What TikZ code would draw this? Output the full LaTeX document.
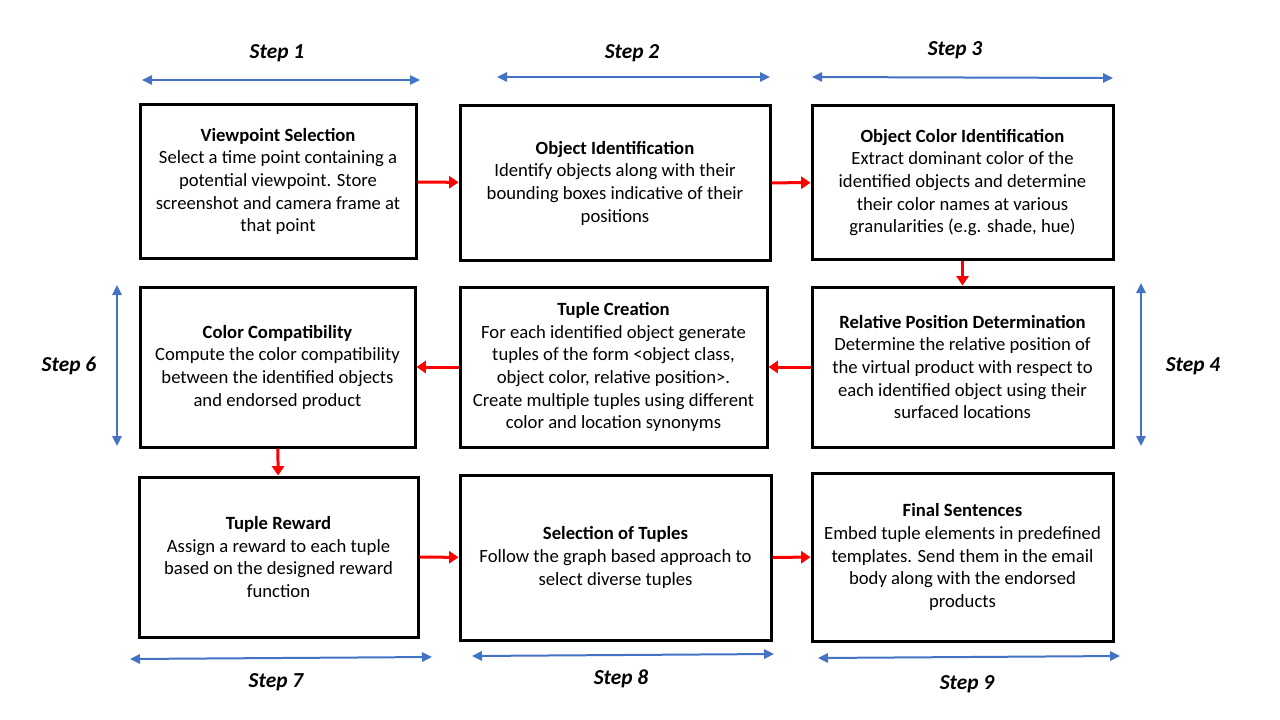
\documentclass[tikz,border=0pt]{standalone}
\usepackage{fontspec}
\setmainfont{Carlito}
\usetikzlibrary{arrows.meta}
\definecolor{stepblue}{HTML}{4472C4}
\begin{document}
\begin{tikzpicture}[x=0.75pt,y=-0.75pt,
  box/.style={draw,line width=2.25pt,align=center,inner sep=0pt,
    font=\fontsize{14}{17}\selectfont},
  flow/.style={red,line width=2.25pt,-{Triangle[length=7pt,width=9pt]}},
  span/.style={stepblue,line width=1.5pt,{Triangle[length=7.5pt,width=7pt]}-{Triangle[length=7.5pt,width=7pt]}},
  steplbl/.style={font=\fontsize{16}{19}\selectfont\bfseries\itshape}]
\useasboundingbox (0,0) rectangle (1280,720);
% boxes
\node[box,minimum width=207pt,minimum height=114.75pt] (vpsel) at (278,181.5)
  {\textbf{Viewpoint Selection}\\Select a time point containing a\\potential viewpoint. Store\\screenshot and camera frame at\\that point};
\node[box,minimum width=232.5pt,minimum height=115.5pt] (objid) at (615,183)
  {\textbf{Object Identification}\\Identify objects along with their\\bounding boxes indicative of their\\positions};
\node[box,minimum width=225.75pt,minimum height=114.75pt] (colid) at (962.5,182.5)
  {\textbf{Object Color Identification}\\Extract dominant color of the\\identified objects and determine\\their color names at various\\granularities (e.g. shade, hue)};
\node[box,minimum width=206.25pt,minimum height=120pt] (colcomp) at (277.5,367)
  {\textbf{Color Compatibility}\\Compute the color compatibility\\between the identified objects\\and endorsed product};
\node[box,minimum width=230.25pt,minimum height=120pt] (tuplecr) at (613.5,367)
  {\textbf{Tuple Creation}\\For each identified object generate\\tuples of the form <object class,\\object color, relative position>.\\Create multiple tuples using different\\color and location synonyms};
\node[box,minimum width=225.75pt,minimum height=120pt] (relpos) at (962.5,367)
  {\textbf{Relative Position Determination}\\ Determine the relative position of\\the virtual product with respect to\\each identified object using their\\surfaced locations};
\node[box,minimum width=209.25pt,minimum height=120pt] (tuplerew) at (278.5,557)
  {\textbf{Tuple Reward}\\Assign a reward to each tuple\\based on the designed reward\\function};
\node[box,minimum width=233.25pt,minimum height=123.75pt] (seltup) at (615.5,557.5)
  {\textbf{Selection of Tuples}\\Follow the graph based approach to\\select diverse tuples};
\node[box,minimum width=225.75pt,minimum height=126pt] (finsent) at (962.5,557)
  {\textbf{Final Sentences}\\Embed tuple elements in predefined\\templates. Send them in the email\\body along with the endorsed\\products};
% flow
\draw[flow] (vpsel) -- (objid);
\draw[flow] (objid) -- (colid);
\draw[flow] (colid) -- (relpos);
\draw[flow] (relpos) -- (tuplecr);
\draw[flow] (tuplecr) -- (colcomp);
\draw[flow] (colcomp) -- (tuplerew);
\draw[flow] (tuplerew) -- (seltup);
\draw[flow] (seltup) -- (finsent);
% steps
\node[steplbl] (s1) at (277,53) {Step 1};
\node[steplbl] (s2) at (632,53) {Step 2};
\node[steplbl] (s3) at (955,50) {Step 3};
\node[steplbl] (s4) at (1193,366) {Step 4};
\node[steplbl] (s6) at (69,366) {Step 6};
\node[steplbl] (s7) at (276,682) {Step 7};
\node[steplbl] (s8) at (621,679) {Step 8};
\node[steplbl] (s9) at (967,684) {Step 9};
\coordinate (s1a) at (142,80);   \coordinate (s1b) at (420,80);
\coordinate (s2a) at (497,77);   \coordinate (s2b) at (770,77);
\coordinate (s3a) at (812,77);   \coordinate (s3b) at (1113,78);
\coordinate (s4a) at (1141,283); \coordinate (s4b) at (1141,446);
\coordinate (s6a) at (117,285);  \coordinate (s6b) at (117,446);
\coordinate (s7a) at (130,659);  \coordinate (s7b) at (432,657);
\coordinate (s8a) at (472,656);  \coordinate (s8b) at (774,654);
\coordinate (s9a) at (818,658);  \coordinate (s9b) at (1120,656);
\foreach \s in {s1,s2,s3,s4,s6,s7,s8,s9}
  \draw[span] (\s a) -- (\s b);
\end{tikzpicture}
\end{document}
